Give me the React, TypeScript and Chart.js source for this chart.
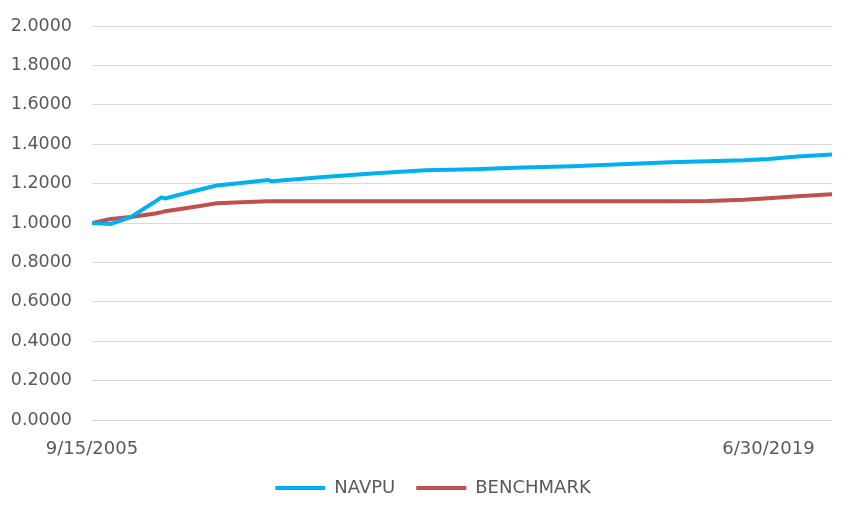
import React, { useEffect, useRef } from "react";
import { Chart, registerables } from "chart.js";

Chart.register(...registerables);

const dates: string[] = [
  "2005-09-15", "2006-01-31", "2006-06-30", "2006-12-31", "2007-02-15", "2007-03-15",
  "2007-09-30", "2008-03-31", "2008-09-30", "2009-04-15", "2009-05-15", "2010-06-30",
  "2011-06-30", "2012-06-30", "2013-06-30", "2014-06-30", "2015-06-30", "2016-06-30",
  "2017-06-30", "2018-03-31", "2018-12-31", "2019-06-30", "2020-01-31", "2020-10-15",
];
const navpu: number[] = [
  1.0, 0.995, 1.03, 1.11, 1.13, 1.125,
  1.16, 1.19, 1.203, 1.218, 1.212, 1.235,
  1.252, 1.268, 1.273, 1.282, 1.288, 1.298,
  1.308, 1.314, 1.318, 1.325, 1.337, 1.348,
];
const benchmark: number[] = [
  1.0, 1.02, 1.03, 1.048, 1.055, 1.06,
  1.08, 1.1, 1.105, 1.11, 1.111, 1.111,
  1.111, 1.111, 1.111, 1.111, 1.111, 1.111,
  1.111, 1.112, 1.118, 1.126, 1.136, 1.146,
];
const xTickDates: string[] = ["2005-09-15", "2019-06-30"];
const yMin = 0;
const yMax = 2;
const yStep = 0.2;

const toTs = (s: string) => {
  const [y, m, d] = s.split("-").map(Number);
  return Date.UTC(y, m - 1, d);
};
const fmtDate = (v: number) => {
  const dt = new Date(v);
  return `${dt.getUTCMonth() + 1}/${dt.getUTCDate()}/${dt.getUTCFullYear()}`;
};

const FONT = "'DejaVu Sans', sans-serif";
const TEXT = "#595959";

const legendShift = {
  id: "legendShift",
  afterLayout(chart: any) {
    const l = chart.legend;
    if (l) {
      l.left += 17;
      l.right += 17;
    }
  },
};

export default function App() {
  const ref = useRef<HTMLCanvasElement | null>(null);
  useEffect(() => {
    if (!ref.current) return;
    const xs = dates.map(toTs);
    const chart = new Chart(ref.current, {
      type: "line",
      data: {
        datasets: [
          {
            label: "NAVPU",
            data: xs.map((x, i) => ({ x, y: navpu[i] })),
            borderColor: "#00B0F0",
            backgroundColor: "#00B0F0",
            borderWidth: 4,
            pointRadius: 0,
            tension: 0,
          },
          {
            label: "BENCHMARK",
            data: xs.map((x, i) => ({ x, y: benchmark[i] })),
            borderColor: "#C0504D",
            backgroundColor: "#C0504D",
            borderWidth: 4,
            pointRadius: 0,
            tension: 0,
          },
        ],
      },
      plugins: [legendShift],
      options: {
        responsive: false,
        animation: false,
        layout: { padding: { left: 0, right: 27, top: 26, bottom: 10 } },
        plugins: {
          tooltip: { enabled: false },
          legend: {
            position: "bottom",
            labels: {
              usePointStyle: true,
              pointStyle: "line",
              pointStyleWidth: 50,
              boxHeight: 18,
              color: TEXT,
              font: { family: FONT, size: 18 },
              padding: 21,
            },
          },
        },
        scales: {
          x: {
            type: "linear",
            min: xs[0],
            max: xs[xs.length - 1],
            grid: { display: false, drawTicks: false },
            border: { display: false },
            afterBuildTicks: (axis: any) => {
              axis.ticks = xTickDates.map((d) => ({ value: toTs(d) }));
            },
            afterFit: (axis: any) => {
              axis.height = 38;
            },
            ticks: {
              autoSkip: false,
              maxRotation: 0,
              padding: 19,
              color: TEXT,
              font: { family: FONT, size: 18 },
              callback: (v: any) => fmtDate(Number(v)),
            },
          },
          y: {
            min: yMin,
            max: yMax,
            grid: {
              color: "#d9d9d9",
              lineWidth: 1,
              drawTicks: true,
              tickLength: 20,
              tickColor: "rgba(0,0,0,0)",
            },
            border: { display: false },
            afterFit: (axis: any) => {
              axis.width = 92;
            },
            ticks: {
              stepSize: yStep,
              padding: 0,
              color: TEXT,
              font: { family: FONT, size: 17.5 },
              callback: (v: any) => Number(v).toFixed(4),
            },
          },
        },
      },
    });
    return () => chart.destroy();
  }, []);
  return (
    <div style={{ position: "fixed", left: 0, top: 0, width: 859, height: 517, background: "#fff" }}>
      <canvas ref={ref} width={859} height={517} />
    </div>
  );
}
